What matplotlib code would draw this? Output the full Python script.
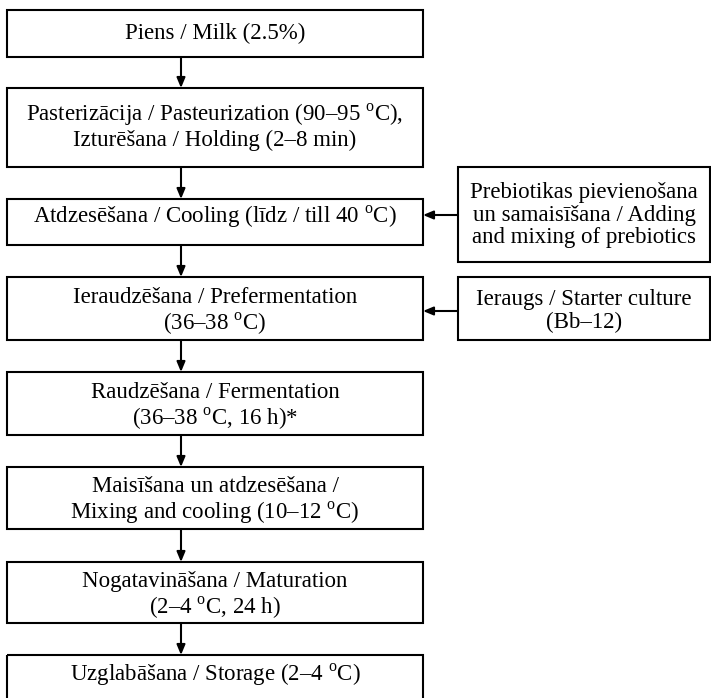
import matplotlib.pyplot as plt
from matplotlib.patches import Rectangle

plt.rcParams['font.family'] = ['Liberation Serif', 'DejaVu Serif']
plt.rcParams['mathtext.fontset'] = 'custom'
plt.rcParams['mathtext.rm'] = 'Liberation Serif'

DEG = r'$^{\mathrm{o}}$'

# process steps (main column)
steps = [
    'Piens / Milk (2.5%)',
    'Pasterizācija / Pasteurization (90–95 ' + DEG + 'C),\nIzturēšana / Holding (2–8 min)',
    'Atdzesēšana / Cooling (līdz / till 40 ' + DEG + 'C)',
    'Ieraudzēšana / Prefermentation\n(36–38 ' + DEG + 'C)',
    'Raudzēšana / Fermentation\n(36–38 ' + DEG + 'C, 16 h)*',
    'Maisīšana un atdzesēšana /\nMixing and cooling (10–12 ' + DEG + 'C)',
    'Nogatavināšana / Maturation\n(2–4 ' + DEG + 'C, 24 h)',
    'Uzglabāšana / Storage (2–4 ' + DEG + 'C)',
]

# side inputs and the step index they feed into
inputs = [
    'Prebiotikas pievienošana\nun samaisīšana / Adding\nand mixing of prebiotics',
    'Ieraugs / Starter culture\n(Bb–12)',
]
input_target = [2, 3]

# layout in pixels (top, bottom, text y)
step_top = [10, 88, 199, 277, 372, 467, 562, 655]
step_bot = [57, 167, 245, 340, 435, 529, 623, 702]
step_ty = [33, 126, 217, 312, 407, 501, 596, 675]
main_x0, main_x1, arrow_x = 7, 423, 181

in_top = [167, 277]
in_bot = [262, 340]
in_ty = [215, 311]
side_x0, side_x1 = 458, 710

W, H = 711, 698
fig = plt.figure(figsize=(W / 100, H / 100), dpi=100)
ax = fig.add_axes([0, 0, 1, 1])
ax.set_xlim(0, W)
ax.set_ylim(H, 0)
ax.axis('off')

lw = 1.5
fs = 16.5
arrow_style = dict(arrowstyle='-|>,head_length=0.6,head_width=0.25', color='black', lw=lw,
                   shrinkA=0, shrinkB=0)

for i, txt in enumerate(steps):
    ax.add_patch(Rectangle((main_x0, step_top[i]), main_x1 - main_x0, step_bot[i] - step_top[i],
                           fill=False, edgecolor='black', lw=lw))
    ax.text((main_x0 + main_x1) / 2, step_ty[i], txt, ha='center', va='center',
            fontsize=fs, linespacing=1.1)
    if i < len(steps) - 1:
        ax.annotate('', xy=(arrow_x, step_top[i + 1]), xytext=(arrow_x, step_bot[i]),
                    arrowprops=arrow_style)

for j, txt in enumerate(inputs):
    ax.add_patch(Rectangle((side_x0, in_top[j]), side_x1 - side_x0, in_bot[j] - in_top[j],
                           fill=False, edgecolor='black', lw=lw))
    ax.text((side_x0 + side_x1) / 2, in_ty[j], txt, ha='center', va='center',
            fontsize=fs, linespacing=1.1)
    ax.annotate('', xy=(main_x1, in_ty[j]), xytext=(side_x0, in_ty[j]),
                arrowprops=arrow_style)

fig.savefig('out.png', dpi=100)
